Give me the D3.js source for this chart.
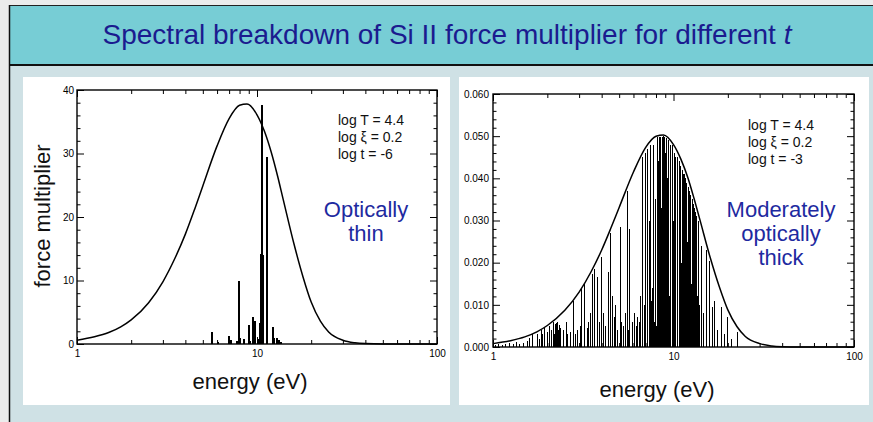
<!DOCTYPE html>
<html>
<head>
<meta charset="utf-8">
<script src="https://cdn.jsdelivr.net/npm/d3@7"></script>
<style>
  html, body { margin: 0; padding: 0; background: #ececec; }
  svg { display: block; font-family: "Liberation Sans", Arial, Helvetica, sans-serif; }
</style>
</head>
<body>
<svg id="slide" width="873" height="422"></svg>
<script>
// ---------- data ----------
const slideTitle = "Spectral breakdown of Si II force multiplier for different ";
const slideTitleItalic = "t";

const energyTicks = [1, 10, 100];
const energyMinorTicks = [2, 3, 4, 5, 6, 7, 8, 9, 20, 30, 40, 50, 60, 70, 80, 90];

// Optically thin case (log t = -6)
const thinYTicks = [0, 10, 20, 30, 40];
const thinEnvelopeE  = [1, 1.25, 1.5, 1.75, 2, 2.5, 3, 3.5, 4, 4.5, 5, 6, 7, 8, 8.8, 10, 11, 12, 13, 14, 16, 18, 20, 22.5, 25, 30, 35, 40, 50, 100];
const thinEnvelopeFM = [0.6, 1.13, 1.8, 2.7, 3.8, 6.5, 9.8, 13.5, 17.3, 21.2, 24.9, 31.2, 35.5, 37.6, 37.8, 36.1, 33.5, 30.2, 26.5, 22.7, 15.9, 10.6, 6.6, 3.6, 1.9, 0.6, 0.19, 0.06, 0, 0];
const thinLineE  = [5.62, 6.07, 6.99, 7.17, 7.74, 7.94, 8.04, 8.47, 9.0, 9.15, 9.5, 9.76, 10.13, 10.37, 10.50, 10.64, 10.78, 11.36, 12.27, 12.43, 12.92, 13.26, 13.61];
const thinLineFM = [1.9, 0.3, 1.3, 0.6, 0.5, 10.0, 1.0, 0.8, 3.0, 0.5, 4.2, 3.7, 0.8, 3.3, 14.2, 37.6, 14.0, 29.5, 2.7, 1.0, 1.0, 0.7, 0.3];
const thinNotes = ["log T = 4.4", "log \u03BE = 0.2", "log t = -6"];
const thinLabel = ["Optically", "thin"];

// Moderately optically thick case (log t = -3)
const thickYTicks = [0, 0.01, 0.02, 0.03, 0.04, 0.05, 0.06];
const thickEnvelopeE  = [1, 1.25, 1.5, 1.75, 2, 2.5, 3, 3.5, 4, 4.5, 5, 6, 7, 8, 8.8, 10, 11, 12, 13, 14, 16, 18, 20, 22.5, 25, 30, 35, 40, 50, 100];
const thickEnvelopeFM = [0.0008, 0.0015, 0.0024, 0.0036, 0.0051, 0.0087, 0.0130, 0.0179, 0.0230, 0.0282, 0.0331, 0.0415, 0.0473, 0.0500, 0.0503, 0.0480, 0.0445, 0.0402, 0.0352, 0.0302, 0.0211, 0.0141, 0.0088, 0.0048, 0.0025, 0.0008, 0.00025, 0.00008, 0, 0];
const thickLineE = [
  1.026, 1.066, 1.122, 1.180, 1.242, 1.307, 1.358, 1.411, 1.485, 1.543,
  1.603, 1.665, 1.753, 1.821, 1.868, 1.892, 1.941, 1.992, 2.017, 2.069,
  2.096, 2.150, 2.178, 2.206, 2.234, 2.263, 2.292, 2.321, 2.351, 2.443,
  2.538, 2.603, 2.671, 2.775, 2.847, 2.920, 3.034, 3.112, 3.233, 3.318,
  3.360, 3.447, 3.536, 3.628, 3.770, 3.866, 3.966, 4.069, 4.227, 4.337,
  4.449, 4.564, 4.683, 4.802, 4.926, 5.054, 5.119, 5.251, 5.387, 5.527,
  5.668, 5.741, 5.890, 6.042, 6.119, 6.198, 6.278, 6.358, 6.440, 6.523,
  6.606, 6.691, 6.776, 6.864, 6.952, 7.041, 7.132, 7.223, 7.316, 7.410,
  7.505, 7.602, 7.699, 7.798, 7.899, 8.000, 8.103, 8.207, 8.313, 8.419,
  8.527, 8.637, 8.748, 8.860, 8.974, 9.089, 9.206, 9.324, 9.443, 9.564,
  9.686, 9.811, 9.936, 10.06, 10.19, 10.32, 10.46, 10.59, 10.73, 10.86,
  11.00, 11.14, 11.28, 11.43, 11.57, 11.72, 11.87, 12.03, 12.18, 12.33,
  12.49, 12.65, 12.82, 12.98, 13.14, 13.31, 13.48, 13.66, 13.83, 14.01,
  14.37, 14.74, 15.31, 15.91, 16.52, 16.96, 17.61, 18.54, 19.26, 20.00,
  21.03, 22.69
];
const thickLineFM = [
  0.0005, 0.0006, 0.0004, 0.0008, 0.0009, 0.0006, 0.0012, 0.0007, 0.0010, 0.0015,
  0.0022, 0.0030, 0.0030, 0.0020, 0.0040, 0.0030, 0.0045, 0.0035, 0.0025, 0.0050,
  0.0040, 0.0060, 0.0030, 0.0055, 0.0058, 0.0060, 0.0040, 0.0052, 0.0045, 0.0040,
  0.0060, 0.0030, 0.0035, 0.0108, 0.0030, 0.0040, 0.0050, 0.0138, 0.0150, 0.0045,
  0.0060, 0.0080, 0.0173, 0.0184, 0.0165, 0.0060, 0.0214, 0.0080, 0.0050, 0.0178,
  0.0270, 0.0120, 0.0070, 0.0100, 0.0040, 0.0285, 0.0060, 0.0050, 0.0080, 0.0370,
  0.0040, 0.0280, 0.0060, 0.0080, 0.0035, 0.0050, 0.0045, 0.0070, 0.0060, 0.0075,
  0.0120, 0.0065, 0.0450, 0.0100, 0.0460, 0.0150, 0.0470, 0.0130, 0.0300, 0.0480,
  0.0110, 0.0140, 0.0480, 0.0060, 0.0350, 0.0050, 0.0498, 0.0440, 0.0498, 0.0498,
  0.0330, 0.0498, 0.0500, 0.0498, 0.0460, 0.0495, 0.0400, 0.0490, 0.0120, 0.0480,
  0.0090, 0.0480, 0.0480, 0.0300, 0.0460, 0.0450, 0.0450, 0.0240, 0.0440, 0.0440,
  0.0430, 0.0200, 0.0420, 0.0410, 0.0410, 0.0400, 0.0390, 0.0250, 0.0380, 0.0370,
  0.0360, 0.0150, 0.0350, 0.0340, 0.0330, 0.0320, 0.0310, 0.0120, 0.0300, 0.0100,
  0.0240, 0.0080, 0.0230, 0.0205, 0.0095, 0.0110, 0.0040, 0.0095, 0.0030, 0.0071,
  0.0020, 0.0036
];
const thickNotes = ["log T = 4.4", "log \u03BE = 0.2", "log t = -3"];
const thickLabel = ["Moderately", "optically", "thick"];

const xTitle = "energy (eV)";
const yTitle = "force multiplier";

// ---------- page frame ----------
const svg = d3.select("#slide");

svg.append("rect").attr("x", 0).attr("y", 0).attr("width", 873).attr("height", 422).attr("fill", "#ececec");
// body
svg.append("rect").attr("x", 9).attr("y", 65).attr("width", 864).attr("height", 357).attr("fill", "#cfe1e5");
// title band
svg.append("rect").attr("x", 9).attr("y", 5).attr("width", 864).attr("height", 60).attr("fill", "#77cdd5");
svg.append("line").attr("x1", 9).attr("x2", 873).attr("y1", 5.5).attr("y2", 5.5).attr("stroke", "#222").attr("stroke-width", 1);
svg.append("line").attr("x1", 9).attr("x2", 873).attr("y1", 65).attr("y2", 65).attr("stroke", "#111").attr("stroke-width", 2);
svg.append("line").attr("x1", 9.5).attr("x2", 9.5).attr("y1", 5).attr("y2", 422).attr("stroke", "#111").attr("stroke-width", 1.5);

const title = svg.append("text")
  .attr("x", 447).attr("y", 44)
  .attr("text-anchor", "middle")
  .attr("font-size", 28)
  .attr("fill", "#1b1b8f");
title.append("tspan").text(slideTitle);
title.append("tspan").attr("font-style", "italic").text(slideTitleItalic);

// white panels
svg.append("rect").attr("x", 23).attr("y", 77).attr("width", 427).attr("height", 328).attr("fill", "#fff");
svg.append("rect").attr("x", 459).attr("y", 77).attr("width", 410).attr("height", 328).attr("fill", "#fff");

// ---------- plot drawing ----------
function drawPlot(cfg) {
  const g = svg.append("g");
  const x = d3.scaleLog().domain([1, 100]).range([cfg.x0, cfg.x1]);
  const y = d3.scaleLinear().domain([0, cfg.yTicks[cfg.yTicks.length - 1]]).range([cfg.y0, cfg.y1]);

  const step = cfg.yTicks[1] - cfg.yTicks[0];
  const yMinor = [];
  for (let i = 0; i < cfg.yTicks.length - 1; i++) {
    for (let k = 1; k < 5; k++) yMinor.push(cfg.yTicks[i] + step * k / 5);
  }

  // spectral lines
  const lines = cfg.lineE.map((e, i) => [e, cfg.lineFM[i]]);
  g.append("g").attr("shape-rendering", "crispEdges")
    .selectAll("line").data(lines).join("line")
    .attr("x1", d => x(d[0])).attr("x2", d => x(d[0]))
    .attr("y1", y(0)).attr("y2", d => y(d[1]))
    .attr("stroke", "#000").attr("stroke-width", cfg.lineWidth);

  // envelope
  const env = cfg.envE.map((e, i) => [e, cfg.envFM[i]]);
  g.append("path").datum(env)
    .attr("d", d3.line().x(d => x(d[0])).y(d => y(d[1])).curve(d3.curveMonotoneX))
    .attr("fill", "none").attr("stroke", "#000").attr("stroke-width", 1.5);

  // axes: ticks point inward on all four sides
  function styleAxis(sel, noLabels) {
    sel.select(".domain").remove();
    sel.selectAll(".tick line").attr("stroke", "#000").attr("stroke-width", 1);
    sel.selectAll(".tick text").attr("fill", "#000").attr("font-size", 10)
      .attr("font-family", "'Liberation Sans', Arial, sans-serif");
    if (noLabels) sel.selectAll(".tick text").remove();
  }
  const yFmt = cfg.yFormat;

  g.append("g").attr("transform", `translate(0,${cfg.y0})`)
    .call(d3.axisBottom(x).tickValues(energyTicks).tickSize(-7).tickPadding(6).tickFormat(d3.format("d")))
    .call(s => styleAxis(s, false));
  g.append("g").attr("transform", `translate(0,${cfg.y0})`)
    .call(d3.axisBottom(x).tickValues(energyMinorTicks).tickSize(-4).tickFormat(""))
    .call(s => styleAxis(s, true));
  g.append("g").attr("transform", `translate(0,${cfg.y1})`)
    .call(d3.axisTop(x).tickValues(energyTicks).tickSize(-7).tickFormat(""))
    .call(s => styleAxis(s, true));
  g.append("g").attr("transform", `translate(0,${cfg.y1})`)
    .call(d3.axisTop(x).tickValues(energyMinorTicks).tickSize(-4).tickFormat(""))
    .call(s => styleAxis(s, true));

  g.append("g").attr("transform", `translate(${cfg.x0},0)`)
    .call(d3.axisLeft(y).tickValues(cfg.yTicks).tickSize(-7).tickPadding(cfg.yPad).tickFormat(yFmt))
    .call(s => styleAxis(s, false));
  g.append("g").attr("transform", `translate(${cfg.x0},0)`)
    .call(d3.axisLeft(y).tickValues(yMinor).tickSize(-3.5).tickFormat(""))
    .call(s => styleAxis(s, true));
  g.append("g").attr("transform", `translate(${cfg.x1},0)`)
    .call(d3.axisRight(y).tickValues(cfg.yTicks).tickSize(-7).tickFormat(""))
    .call(s => styleAxis(s, true));
  g.append("g").attr("transform", `translate(${cfg.x1},0)`)
    .call(d3.axisRight(y).tickValues(yMinor).tickSize(-3.5).tickFormat(""))
    .call(s => styleAxis(s, true));

  // frame
  g.append("rect")
    .attr("x", cfg.x0).attr("y", cfg.y1)
    .attr("width", cfg.x1 - cfg.x0).attr("height", cfg.y0 - cfg.y1)
    .attr("fill", "none").attr("stroke", "#000").attr("stroke-width", 1.4);

  // axis title
  g.append("text").attr("x", cfg.xTitleX).attr("y", cfg.xTitleY)
    .attr("text-anchor", "middle").attr("font-size", 22).attr("fill", "#111")
    .text(xTitle);

  // parameter notes
  g.append("g").selectAll("text").data(cfg.notes).join("text")
    .attr("x", cfg.noteX).attr("y", (d, i) => cfg.noteY + i * 17)
    .attr("font-size", 14).attr("fill", "#111")
    .text(d => d);

  // regime label
  g.append("g").selectAll("text").data(cfg.label).join("text")
    .attr("x", cfg.labelX).attr("y", (d, i) => cfg.labelY + i * 24)
    .attr("text-anchor", "middle").attr("font-size", 22).attr("fill", "#1e2aa0")
    .text(d => d);

  return { x, y };
}

drawPlot({
  x0: 77, x1: 437, y0: 344, y1: 90,
  yTicks: thinYTicks, yFormat: d3.format("d"), yPad: 3,
  envE: thinEnvelopeE, envFM: thinEnvelopeFM,
  lineE: thinLineE, lineFM: thinLineFM, lineWidth: 1.5,
  xTitleX: 250, xTitleY: 389,
  notes: thinNotes, noteX: 338, noteY: 125,
  label: thinLabel, labelX: 366, labelY: 217
});

drawPlot({
  x0: 493, x1: 854, y0: 347, y1: 94,
  yTicks: thickYTicks, yFormat: d3.format(".3f"), yPad: 4,
  envE: thickEnvelopeE, envFM: thickEnvelopeFM,
  lineE: thickLineE, lineFM: thickLineFM, lineWidth: 1,
  xTitleX: 657, xTitleY: 397,
  notes: thickNotes, noteX: 748, noteY: 130,
  label: thickLabel, labelX: 781, labelY: 217
});

// y-axis title of the left plot
svg.append("text")
  .attr("transform", "translate(50,216) rotate(-90)")
  .attr("text-anchor", "middle").attr("font-size", 22).attr("fill", "#111")
  .text(yTitle);
</script>
</body>
</html>
